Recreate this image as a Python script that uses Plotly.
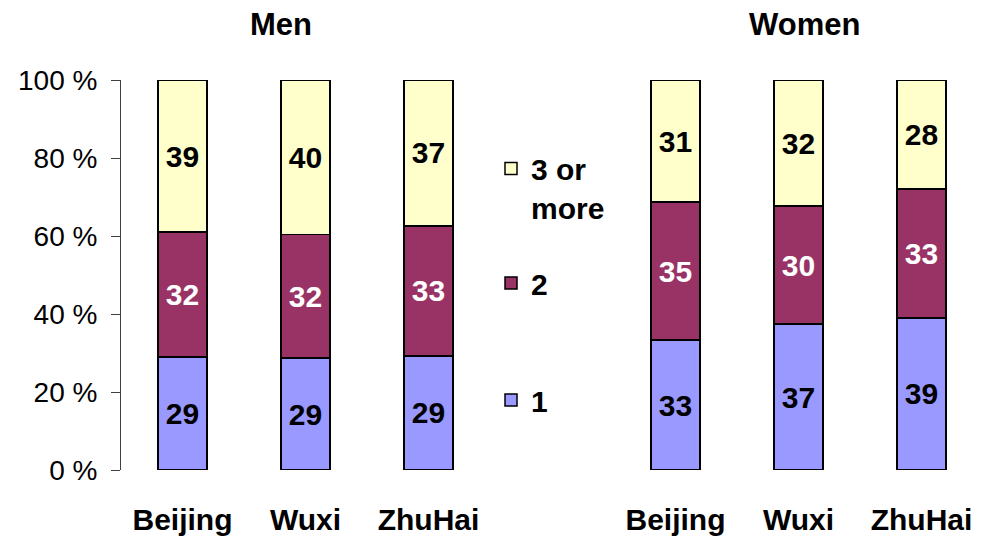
import plotly.graph_objects as go

categories = ["Beijing", "Wuxi", "ZhuHai"]
series_names = ["1", "2", "3 or<br>more"]
men_1 = [29, 29, 29]
men_2 = [32, 32, 33]
men_3 = [39, 40, 37]
women_1 = [33, 37, 39]
women_2 = [35, 30, 33]
women_3 = [31, 32, 28]
y_ticks = [0, 20, 40, 60, 80, 100]
y_tick_labels = ["0 %", "20 %", "40 %", "60 %", "80 %", "100 %"]

colors = ["#9999FF", "#993366", "#FFFFCC"]
text_colors = ["black", "white", "black"]
legends = ["legend3", "legend2", "legend"]
FONT = "Arial, Liberation Sans, sans-serif"
W, H = 983, 536
BOLD = 30

fig = go.Figure()
for gi, (vals, xa) in enumerate([([men_1, men_2, men_3], "x"), ([women_1, women_2, women_3], "x2")]):
    for si in range(3):
        fig.add_trace(go.Bar(
            x=categories, y=vals[si], name=series_names[si],
            xaxis=xa, yaxis="y" if xa == "x" else "y2",
            marker=dict(color=colors[si], line=dict(color="black", width=1.5)),
            text=vals[si], texttemplate="%{text}",
            textposition="inside", insidetextanchor="middle", textangle=0,
            textfont=dict(family=FONT, size=BOLD, color=text_colors[si], weight="bold"),
            showlegend=(gi == 0), legend=legends[si],
        ))

def px_x(p):
    return p / W

def px_y(p):
    return (H - p) / H

ydom = [px_y(470), px_y(80)]
leg_common = dict(xanchor="left", yanchor="middle", bgcolor="rgba(0,0,0,0)",
                  borderwidth=0, font=dict(family=FONT, size=BOLD, color="black", weight="bold"),
                  valign="top")
xfont = dict(family=FONT, size=BOLD, color="black", weight="bold")

fig.update_layout(
    width=W, height=H,
    margin=dict(l=0, r=0, t=0, b=0, autoexpand=False),
    paper_bgcolor="white", plot_bgcolor="white",
    barmode="stack", barnorm="percent", bargap=0.6,
    xaxis=dict(domain=[px_x(121), px_x(490)], showline=False, ticks="",
               tickfont=xfont, ticklabelstandoff=29, showgrid=False, automargin=False),
    xaxis2=dict(domain=[px_x(614), px_x(983)], showline=False, ticks="",
                tickfont=xfont, ticklabelstandoff=29, showgrid=False, automargin=False),
    yaxis=dict(domain=ydom, range=[0, 100], tickvals=y_ticks, ticktext=y_tick_labels,
               showline=True, linecolor="#404040", linewidth=1,
               ticks="outside", ticklen=9, tickcolor="#404040",
               tickfont=dict(family=FONT, size=28, color="black"),
               ticklabelstandoff=8, showgrid=False, zeroline=False, anchor="x",
               automargin=False),
    yaxis2=dict(domain=ydom, range=[0, 100], showline=False, showticklabels=False,
                ticks="", showgrid=False, zeroline=False, anchor="x2", automargin=False),
    legend=dict(x=px_x(491), y=px_y(188), **leg_common),
    legend2=dict(x=px_x(491), y=px_y(283), **leg_common),
    legend3=dict(x=px_x(491), y=px_y(400), **leg_common),
    annotations=[
        dict(text="Men", x=px_x(281), y=px_y(24), xref="paper", yref="paper",
             xanchor="center", yanchor="middle", showarrow=False,
             font=dict(family=FONT, size=31, color="black", weight="bold")),
        dict(text="Women", x=px_x(804), y=px_y(24), xref="paper", yref="paper",
             xanchor="center", yanchor="middle", showarrow=False,
             font=dict(family=FONT, size=31, color="black", weight="bold")),
    ],
)

fig.write_html("out.html", config={"displayModeBar": False},
               post_script="document.body.style.margin='0px';")
